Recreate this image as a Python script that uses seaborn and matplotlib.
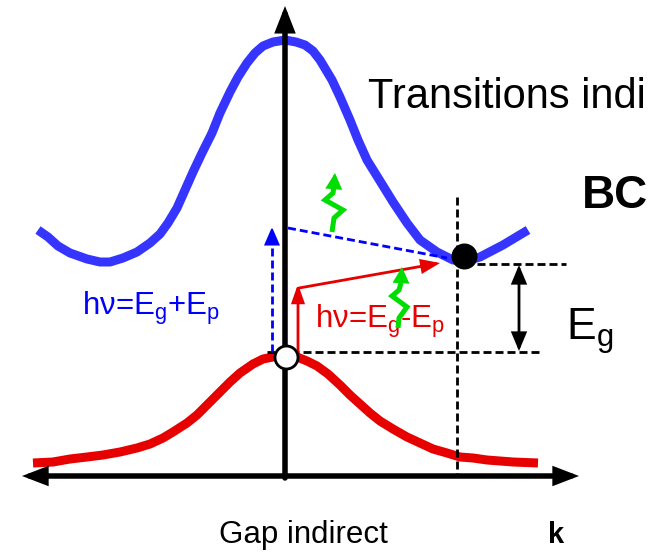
import matplotlib
matplotlib.use("Agg")
import matplotlib.pyplot as plt
import seaborn as sns
import numpy as np
import pandas as pd

# ---------------- data (image units: k to the right, E downward in pixels) -------------
cb_k = [38, 48, 58, 70, 87, 100, 110, 123, 137, 150, 160, 168, 177, 185, 193, 202, 212,
        220, 230, 238, 247, 255, 263, 273, 285, 296, 305, 313, 320, 326, 332, 340, 350,
        358, 367, 380, 393, 407, 420, 437, 453, 466, 480, 503, 528]
cb_E = [230, 237, 246, 253, 259, 262, 262, 258, 252, 243, 234, 223, 208, 190, 172, 153,
        133, 113, 92, 77, 63, 53, 46, 42, 40, 42, 45, 51, 60, 70, 80, 97, 120,
        140, 160, 181, 202, 223, 240, 252, 260, 261, 257, 245, 230]

vb_k = [33, 53, 70, 87, 103, 120, 137, 150, 163, 173, 187, 197, 208, 220, 230, 240, 253,
        263, 273, 285, 297, 307, 317, 328, 340, 350, 360, 370, 380, 393, 407, 420, 433,
        447, 460, 473, 487, 513, 538]
vb_E = [463, 462, 459, 457, 455, 452, 448, 444, 438, 432, 423, 415, 404, 392, 382, 373,
        364, 359, 357, 355, 357, 361, 366, 374, 385, 395, 404, 413, 421, 429, 437, 443,
        449, 453, 457, 458, 460, 462, 463]

vb_max = (286, 357)   # open circle (hole)
cb_min = (464, 256)   # filled circle (electron)

Ev_level = 352
Ec_level = 264
k_min_line = 457

# transitions
blue_up_k, blue_up_E = [272, 272], [352, 227]
blue_slope_k, blue_slope_E = [288, 447], [228, 258]
red_up_k, red_up_E = [298, 298], [352, 284]
red_slope_k, red_slope_E = [299, 440], [288, 263]

# phonons (green wavy arrows)
ph1_k = [332, 334, 343, 325, 333, 334, 335]
ph1_E = [232, 218, 210, 200, 193, 186, 173]
ph2_k = [398, 399, 407, 392, 399, 401, 402]
ph2_E = [328, 318, 307, 296, 290, 283, 267]

labels = {
    "title": "Transitions indi",
    "bc": "BC",
    "eg": r"E$_{\mathrm{g}}$",
    "plus": r"hν=E$_{\mathrm{g}}$+E$_{\mathrm{p}}$",
    "minus": r"hν=E$_{\mathrm{g}}$-E$_{\mathrm{p}}$",
    "xlabel": "Gap indirect",
    "k": "k",
}

# ---------------- style ----------------
sns.set_theme(style="white")
plt.rcParams["font.family"] = ["Liberation Sans", "DejaVu Sans"]
plt.rcParams["text.color"] = "black"
plt.rcParams["mathtext.fontset"] = "custom"
plt.rcParams["mathtext.rm"] = "Liberation Sans"
plt.rcParams["mathtext.sf"] = "Liberation Sans"
plt.rcParams["mathtext.it"] = "Liberation Sans:italic"
plt.rcParams["mathtext.bf"] = "Liberation Sans:bold"
plt.rcParams["lines.scale_dashes"] = False

PX = 0.72  # pixels -> points at 100 dpi
BLUE = "#3535ff"
RED = "#e60000"
GREEN = "#00dd00"
DASH = (0, (8 * PX, 4 * PX))

fig = plt.figure(figsize=(6.54, 5.55), dpi=100)
ax = fig.add_axes([0, 0, 1, 1])


def head(L_px, Wfull_px, lw_px):
    L = max(L_px - lw_px / 2, 1) * PX
    W = max(Wfull_px / 2 - lw_px / 2, 0.5) * PX
    return f"-|>,head_length={L:.2f},head_width={W:.2f}"


def arrow(start, end, color, lw_px, L_px, W_px, z=4, both=False):
    style = head(L_px, W_px, lw_px)
    if both:
        style = style.replace("-|>", "<|-|>")
    ax.annotate("", xy=end, xytext=start,
                arrowprops=dict(arrowstyle=style, color=color, lw=lw_px * PX,
                                shrinkA=0, shrinkB=0, mutation_scale=1,
                                joinstyle="miter"),
                zorder=z)


# bands
cb = pd.DataFrame({"k": cb_k, "E": cb_E})
vb = pd.DataFrame({"k": vb_k, "E": vb_E})
sns.lineplot(data=cb, x="k", y="E", ax=ax, color=BLUE, linewidth=9 * PX, sort=False,
             solid_capstyle="butt", solid_joinstyle="round", zorder=2)
sns.lineplot(data=vb, x="k", y="E", ax=ax, color=RED, linewidth=9 * PX, sort=False,
             solid_capstyle="butt", solid_joinstyle="round", zorder=2)
ax.set_xlim(0, 654)
ax.set_ylim(555, 0)
ax.axis("off")

# axes arrows
arrow((285, 478), (285, 6), "black", 5.5, 20, 19, z=3)
arrow((22, 476), (579, 476), "black", 5.5, 19, 18, z=3, both=True)

# dashed reference lines
LWD = 2.8 * PX
ax.plot([267, 543], [Ev_level, Ev_level], color="black", lw=LWD, ls=DASH, zorder=4)
ax.plot([477, 566], [Ec_level, Ec_level], color="black", lw=LWD, ls=DASH, zorder=4)
ax.plot([k_min_line, k_min_line], [197, 476], color="black", lw=LWD, ls=DASH, zorder=4)

# Eg double arrow
arrow((519, Ec_level + 1), (519, Ev_level - 1), "black", 2.8, 16, 15, z=4, both=True)

# blue transitions (dashed)
ax.plot(blue_up_k, [blue_up_E[0], blue_up_E[1] + 14], color="#0000ff", lw=LWD,
        ls=DASH, zorder=4)
arrow((blue_up_k[0], blue_up_E[1] + 16), (blue_up_k[1], blue_up_E[1]), "#0000ff", 2, 16, 15)
ax.plot(blue_slope_k, blue_slope_E, color="#0000ff", lw=LWD, ls=DASH, zorder=4)

# red transitions
arrow((red_up_k[0], red_up_E[0]), (red_up_k[1], red_up_E[1]), RED, 2.8, 16, 13)
arrow((red_slope_k[0], red_slope_E[0]), (red_slope_k[1], red_slope_E[1]), RED, 2.8, 16, 14)

# phonons
for pk, pe in ((ph1_k, ph1_E), (ph2_k, ph2_E)):
    ax.plot(pk[:-1], pe[:-1], color=GREEN, lw=5 * PX, solid_joinstyle="miter",
            solid_capstyle="butt", zorder=7)
    arrow((pk[-2], pe[-2]), (pk[-1], pe[-1]), GREEN, 3, 13, 15, z=7)

# band extrema markers
ax.scatter([vb_max[0]], [vb_max[1]], s=(23 * PX) ** 2, facecolor="white",
           edgecolor="black", linewidth=2.8 * PX, zorder=6)
ax.scatter([cb_min[0]], [cb_min[1]], s=(26 * PX) ** 2, facecolor="black",
           edgecolor="black", linewidth=0, zorder=6)

# texts
ax.text(368, 108, labels["title"], fontsize=30, ha="left", va="baseline", color="black")
ax.text(582, 208, labels["bc"], fontsize=33, fontweight="bold", ha="left",
        va="baseline", color="black")
ax.text(566, 340, labels["eg"], fontsize=32, ha="left", va="baseline", color="black")
ax.text(82, 315, labels["plus"], fontsize=22.5, ha="left", va="baseline", color="#0000ff")
ax.text(315, 328, labels["minus"], fontsize=22.5, ha="left", va="baseline", color=RED,
        zorder=5)
ax.text(303, 543, labels["xlabel"], fontsize=22.5, ha="center", va="baseline",
        color="black")
ax.text(548, 543, labels["k"], fontsize=21, fontweight="bold", ha="left",
        va="baseline", color="black")

fig.savefig("out.png", dpi=100)
